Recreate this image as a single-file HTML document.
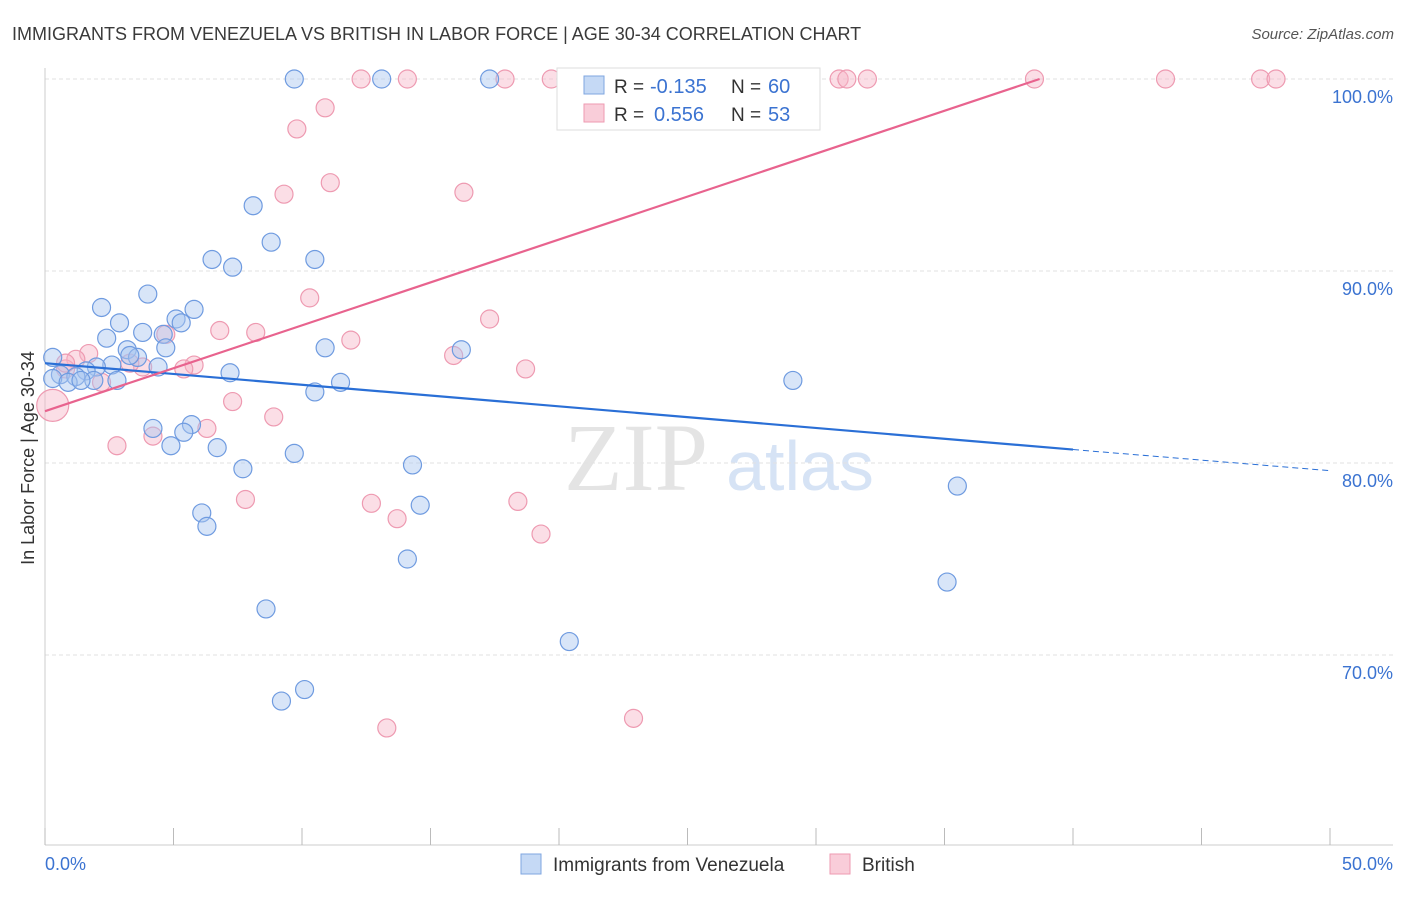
<!DOCTYPE html>
<html><head><meta charset="utf-8"><style>
body{margin:0;background:#fff;font-family:"Liberation Sans",sans-serif;}
</style></head><body>
<svg id="chart" width="1406" height="892" xmlns="http://www.w3.org/2000/svg" font-family="Liberation Sans, sans-serif">
<text x="12" y="40" font-size="18" fill="#3a3a3a">IMMIGRANTS FROM VENEZUELA VS BRITISH IN LABOR FORCE | AGE 30-34 CORRELATION CHART</text>
<text x="1394" y="39" font-size="15" fill="#555" font-style="italic" text-anchor="end">Source: ZipAtlas.com</text>
<text x="636" y="490" font-size="96" fill="#e4e4e4" font-family="Liberation Serif, serif" text-anchor="middle">ZIP</text>
<text x="800" y="490" font-size="70" fill="#d6e3f5" text-anchor="middle">atlas</text>
<g id="grid"></g><g id="axes"></g><g id="pts"></g><g id="lines"></g>
<text transform="translate(34,458) rotate(-90)" font-size="18" fill="#333" text-anchor="middle">In Labor Force | Age 30-34</text>
<text x="45" y="870" font-size="18" fill="#3b73d1">0.0%</text>
<text x="1393" y="870" font-size="18" fill="#3b73d1" text-anchor="end">50.0%</text>
<g>
<rect x="557" y="68" width="263" height="62" fill="#fff" stroke="#ddd"/>
<rect x="584" y="76" width="20" height="18" fill="#c5d9f5" stroke="#7fa6e0"/>
<rect x="584" y="104" width="20" height="18" fill="#f9cdd9" stroke="#ee9ab1"/>
<text x="614" y="93" font-size="19" fill="#333">R =</text>
<text x="650" y="93" font-size="20" fill="#3b73d1">-0.135</text>
<text x="731" y="93" font-size="19" fill="#333">N =</text>
<text x="768" y="93" font-size="20" fill="#3b73d1">60</text>
<text x="614" y="121" font-size="19" fill="#333">R =</text>
<text x="654" y="121" font-size="20" fill="#3b73d1">0.556</text>
<text x="731" y="121" font-size="19" fill="#333">N =</text>
<text x="768" y="121" font-size="20" fill="#3b73d1">53</text>
</g>
<g>
<rect x="521" y="854" width="20" height="20" fill="#c5d9f5" stroke="#7fa6e0"/>
<text x="553" y="871" font-size="19" fill="#333">Immigrants from Venezuela</text>
<rect x="830" y="854" width="20" height="20" fill="#f9cdd9" stroke="#ee9ab1"/>
<text x="862" y="871" font-size="19" fill="#333">British</text>
</g>
</svg>
<script>
const yTicks=[100,90,80,70];
const yTickLabels=["100.0%","90.0%","80.0%","70.0%"];
const xTicks=[0,5,10,15,20,25,30,35,40,45,50];
const blueX=[9.7,13.1,17.3,8.1,8.8,10.5,6.5,7.3,4.0,2.2,5.8,5.1,5.3,2.9,3.8,2.4,4.6,4.7,3.2,10.9,16.2,3.6,3.3,0.3,2.6,2.0,4.4,7.2,1.6,0.6,0.3,1.2,0.9,1.9,1.4,2.8,11.5,10.5,29.1,4.2,5.7,5.4,4.9,6.7,9.7,14.3,7.7,35.5,14.6,6.1,6.3,14.1,35.1,8.6,20.4,10.1,9.2];
const blueY=[100,100,100,93.4,91.5,90.6,90.6,90.2,88.8,88.1,88.0,87.5,87.3,87.3,86.8,86.5,86.7,86.0,85.9,86.0,85.9,85.5,85.6,85.5,85.1,85.0,85.0,84.7,84.8,84.6,84.4,84.5,84.2,84.3,84.3,84.3,84.2,83.7,84.3,81.8,82.0,81.6,80.9,80.8,80.5,79.9,79.7,78.8,77.8,77.4,76.7,75.0,73.8,72.4,70.7,68.2,67.6];
const blueR=[9,9,9,9,9,9,9,9,9,9,9,9,9,9,9,9,9,9,9,9,9,9,9,9,9,9,9,9,9,9,9,9,9,9,9,9,9,9,9,9,9,9,9,9,9,9,9,9,9,9,9,9,9,9,9,9,9];
const pinkX=[12.3,14.1,17.9,19.7,25.1,27.9,30.9,31.2,32.0,38.5,43.6,47.3,47.9,10.9,9.8,11.1,9.3,16.3,10.3,17.3,6.8,8.2,11.9,4.7,1.7,1.2,5.8,5.4,3.8,15.9,18.7,2.2,0.8,0.3,7.3,8.9,6.3,4.2,2.8,7.8,12.7,18.4,13.7,19.3,13.3,22.9,3.3,0.8];
const pinkY=[100,100,100,100,100,100,100,100,100,100,100,100,100,98.5,97.4,94.6,94.0,94.1,88.6,87.5,86.9,86.8,86.4,86.7,85.7,85.4,85.1,84.9,85.0,85.6,84.9,84.2,84.9,83.0,83.2,82.4,81.8,81.4,80.9,78.1,77.9,78.0,77.1,76.3,66.2,66.7,85.2,85.2];
const pinkR=[9,9,9,9,9,9,9,9,9,9,9,9,9,9,9,9,9,9,9,9,9,9,9,9,9,9,9,9,9,9,9,9,9,16,9,9,9,9,9,9,9,9,9,9,9,9,9,9];
const blueFit=[[0,85.2],[40,80.7],[50,79.6]];
const pinkFit=[[0,82.7],[38.7,100]];
const NS="http://www.w3.org/2000/svg";
const X=v=>45+v*25.7, Y=v=>79+(100-v)*19.2;
function mk(t,a,p){const e=document.createElementNS(NS,t);for(const k in a)e.setAttribute(k,a[k]);p.appendChild(e);return e;}
const grid=document.getElementById('grid'),axes=document.getElementById('axes'),pts=document.getElementById('pts'),lines=document.getElementById('lines');
yTicks.forEach((t,i)=>{
 const l=mk('line',{x1:45,x2:1393,y1:Y(t),y2:Y(t),stroke:'#e2e2e2','stroke-dasharray':'4,3'},grid);
 
 
 const tx=mk('text',{x:1393,y:Y(t)+24,'font-size':18,fill:'#3b73d1','text-anchor':'end'},grid);
 tx.textContent=yTickLabels[i];
 
 
});
const ya=mk('line',{x1:45,x2:45,y1:68,y2:845,stroke:'#ccc'},axes);


const xa=mk('line',{x1:45,x2:1393,y1:845,y2:845,stroke:'#ccc'},axes);


xTicks.forEach(t=>{
 const l=mk('line',{x1:X(t),x2:X(t),y1:828,y2:845,stroke:'#bbb'},axes);
 
 
});
pinkX.forEach((v,i)=>{
 const c=mk('circle',{cx:X(v),cy:Y(pinkY[i]),r:pinkR[i],fill:'#f7b6c8','fill-opacity':0.45,stroke:'#ee9ab1','stroke-width':1.2},pts);
 
 
});
blueX.forEach((v,i)=>{
 const c=mk('circle',{cx:X(v),cy:Y(blueY[i]),r:blueR[i],fill:'#a9c6f0','fill-opacity':0.45,stroke:'#6f9be0','stroke-width':1.2},pts);
 
 
});
const b1=mk('line',{x1:X(blueFit[0][0]),y1:Y(blueFit[0][1]),x2:X(blueFit[1][0]),y2:Y(blueFit[1][1]),stroke:'#2a6fd6','stroke-width':2.2},lines);


const b2=mk('line',{x1:X(blueFit[1][0]),y1:Y(blueFit[1][1]),x2:X(blueFit[2][0]),y2:Y(blueFit[2][1]),stroke:'#2a6fd6','stroke-width':1,'stroke-dasharray':'6,4'},lines);


const p1=mk('line',{x1:X(pinkFit[0][0]),y1:Y(pinkFit[0][1]),x2:X(pinkFit[1][0]),y2:Y(pinkFit[1][1]),stroke:'#e8638e','stroke-width':2.2},lines);


</script>
</body></html>
